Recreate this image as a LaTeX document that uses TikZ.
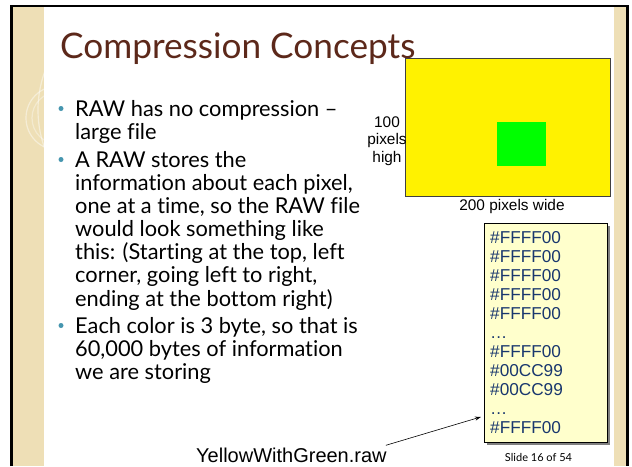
\documentclass[tikz,border=0pt]{standalone}
\usepackage{fontspec}
\setmainfont[Ligatures={NoCommon}]{Lato}
\newfontfamily\arialf{Liberation Sans}
\usetikzlibrary{arrows.meta,calc}
\definecolor{beige}{RGB}{238,223,182}
\definecolor{titlebrown}{RGB}{92,40,26}
\definecolor{bullteal}{RGB}{70,150,175}
\definecolor{codeblue}{RGB}{25,55,110}
\definecolor{codefill}{RGB}{255,255,204}
\newcommand{\linesof}[1]{\begin{tabular}[t]{@{}l@{}}#1\end{tabular}}
\tikzset{
  titletext/.style={anchor=base west, inner sep=0pt, text=titlebrown, font=\fontsize{35.2}{38}\selectfont},
  bodytext/.style={anchor=base west, inner sep=0pt, font=\fontsize{21.8}{23}\selectfont},
  bulletdot/.style={circle, fill=bullteal, inner sep=0pt, minimum size=5pt},
  labeltext/.style={inner sep=0pt, align=center, font=\arialf\fontsize{15.4}{17.5}\selectfont},
  codebox/.style={draw=black, fill=codefill, line width=0.8pt, inner sep=0pt, anchor=north west},
  codetext/.style={anchor=base west, inner sep=0pt, text=codeblue, font=\arialf\fontsize{17.2}{19}\selectfont},
  pointer/.style={-{Stealth[length=6pt,width=4pt]}, line width=0.6pt}
}
\begin{document}
\begin{tikzpicture}[x=1pt,y=-1pt]
\useasboundingbox (0,0) rectangle (632,466);
\fill[white] (0,0) rectangle (632,466);
% side bands
\fill[beige] (12,6) rectangle (44,466);
\fill[beige] (614,6) rectangle (627,466);
\begin{scope}
\clip (12,6) rectangle (44,466);
\draw[white, opacity=0.45, line width=1.2pt] (150,110) circle (112);
\draw[white, opacity=0.45, line width=1.2pt] (58,118) circle (32);
\draw[white, opacity=0.35, line width=1.2pt] (58,118) circle (26);
\end{scope}
% frame
\draw[line width=2.5pt] (11.5,466) -- (11.5,6) -- (627.5,6) -- (627.5,466);
% title
\node[titletext] (title) at (60,58) {Compression Concepts};
% bullets
\node[bulletdot] (b1) at (61,108.5) {};
\node[bodytext] (t1) at (75,116) {\linesof{RAW has no compression –\\large file}};
\node[bulletdot] (b2) at (61,159.5) {};
\node[bodytext] (t2) at (75,167) {\linesof{A RAW stores the\\information about each pixel,\\one at a time, so the RAW file\\would look something like\\this: (Starting at the top, left\\corner, going left to right,\\ending at the bottom right)}};
\node[bulletdot] (b3) at (61,325.5) {};
\node[bodytext] (t3) at (75,333) {\linesof{Each color is 3 byte, so that is\\60,000 bytes of information\\we are storing}};
% image
\node[draw=black!75, fill=yellow, line width=0.8pt, minimum width=205pt, minimum height=138pt, inner sep=0pt, anchor=north west] (img) at (405,58) {};
\node[fill=green, minimum width=49pt, minimum height=44pt, inner sep=0pt, anchor=north west] (sq) at (497,122) {};
\node[labeltext] (hlab) at (387,141) {100\\pixels\\high};
\node[labeltext] (wlab) at (512,207) {200 pixels wide};
% code box
\fill[black!50] (486.5,225.5) rectangle (609.5,444.5);
\node[codebox, minimum width=123pt, minimum height=219pt] (code) at (484,223) {};
\node[codetext] (ct) at (490,243) {\linesof{\#FFFF00\\\#FFFF00\\\#FFFF00\\\#FFFF00\\\#FFFF00\\\dots\\\#FFFF00\\\#00CC99\\\#00CC99\\\dots\\\#FFFF00}};
% file label and arrow
\node[anchor=base west, inner sep=0pt, font=\arialf\fontsize{20}{22}\selectfont] (file) at (196,462) {YellowWithGreen.raw};
\draw[pointer] ([xshift=-1pt,yshift=2pt]file.north east) -- ([xshift=-3pt,yshift=-84pt]code.west);
% slide number
\node[inner sep=0pt, font=\fontsize{11}{13}\selectfont] (num) at (538.5,457) {Slide 16 of 54};
\end{tikzpicture}
\end{document}
